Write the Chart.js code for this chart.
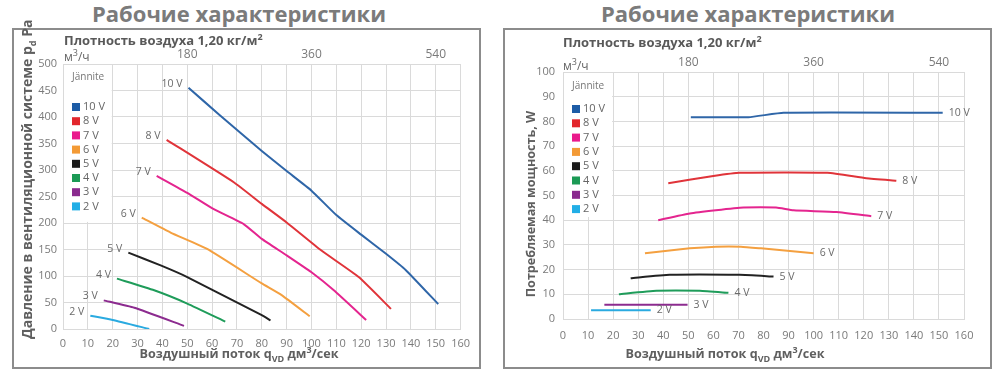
<!DOCTYPE html>
<html>
<head>
<meta charset="utf-8">
<script src="https://cdn.jsdelivr.net/npm/chart.js@4.4.1/dist/chart.umd.min.js"></script>
<style>
  body { margin: 0; width: 1000px; height: 377px; background: #fff; position: relative; overflow: hidden; font-family: "Open Sans", sans-serif; }
  .abs { position: absolute; white-space: nowrap; }
  .title { font-size: 22px; font-weight: 700; color: #7b7b7b; top: -2px; text-align: center; }
  .frame { position: absolute; border: 2px solid #8c8c8c; box-sizing: border-box; }
  .density { font-size: 13px; font-weight: 700; color: #595959; }
  .unit { font-size: 12px; color: #666; }
  .axtitle { font-size: 14px; font-weight: 700; color: #5f5f5f; text-align: center; }
  .xt { font-size: 12.6px; }
  .sm { font-size: 9px; position: relative; }
  canvas { position: absolute; }
</style>
</head>
<body>
<div class="abs title" style="left:0;width:478px;">Рабочие характеристики</div>
<div class="abs title" style="left:505px;width:486px;">Рабочие характеристики</div>
<div class="frame" style="left:12px;top:28px;width:469px;height:341px;"></div>
<div class="frame" style="left:503px;top:28px;width:489px;height:341px;"></div>

<canvas id="chart-pressure" style="left:14px;top:30px;" width="464" height="336"></canvas>
<canvas id="chart-power" style="left:505px;top:30px;" width="484" height="336"></canvas>

<div class="abs density" style="left:64px;top:31px;">Плотность воздуха 1,20 кг/м<span class="sm" style="top:-5px">2</span></div>
<div class="abs unit" style="left:64px;top:48px;">м<span class="sm" style="top:-5px">3</span>/ч</div>
<div class="abs density" style="left:563px;top:33px;">Плотность воздуха 1,20 кг/м<span class="sm" style="top:-5px">2</span></div>
<div class="abs unit" style="left:563px;top:57px;">м<span class="sm" style="top:-5px">3</span>/ч</div>

<div class="abs axtitle" style="left:-123px;top:179px;width:300px;height:20px;transform:rotate(-90deg);">Давление в вентиляционной системе p<span class="sm" style="top:4px">d</span> Pa</div>
<div class="abs axtitle xt" style="left:382px;top:194px;width:300px;height:20px;transform:rotate(-90deg);">Потребляемая мощность, W</div>
<div class="abs axtitle xt" style="left:89px;top:345px;width:300px;">Воздушный поток q<span class="sm" style="top:4px">VD</span> дм<span class="sm" style="top:-5px">3</span>/сек</div>
<div class="abs axtitle xt" style="left:575px;top:345px;width:300px;">Воздушный поток q<span class="sm" style="top:4px">VD</span> дм<span class="sm" style="top:-5px">3</span>/сек</div>

<script>
// voltages, colours
const voltLabels = ['10 V', '8 V', '7 V', '6 V', '5 V', '4 V', '3 V', '2 V'];
const lineColors = ['#2f66a8', '#e0343a', '#e4258f', '#f4a040', '#222222', '#1f9c5a', '#8c2b8f', '#2aaae0'];
const legendColors = ['#1d5ca6', '#e2262c', '#ea1a8c', '#f39a35', '#1a1a1a', '#1b9a55', '#8a2a8e', '#22aee6'];
const legendTitle = 'Jännite';

// top axis: l/s -> m3/h
const topTickValues = [50, 100, 150];
const topTickLabels = ['180', '360', '540'];

// pressure curves [flow dm3/s, Pa]
const press10V = [[50.5, 455], [63, 404], [80, 336], [90, 298], [100, 261], [110, 215], [120, 178], [130, 142], [138, 111], [151, 47]];
const press8V = [[41.7, 357], [69, 276], [80, 236], [90, 201], [104, 148], [119, 98], [132, 38]];
const press7V = [[37.7, 289], [50, 257], [60.7, 226], [72.7, 198], [80, 170], [90, 139], [100, 107], [109, 73], [122, 17]];
const press6V = [[31.7, 210], [43.3, 182], [58, 151], [80, 86], [88, 64], [99.3, 24]];
const press5V = [[26.3, 144], [39.3, 120], [50, 98], [80, 26], [83.5, 16]];
const press4V = [[21.7, 95], [36.7, 73], [50, 48], [65.3, 14]];
const press3V = [[16.4, 54], [28.7, 40], [48.7, 6]];
const press2V = [[11, 25], [20, 17], [34.7, 0]];

// power curves [flow dm3/s, W]
const power10V = [[51, 81.7], [74, 81.7], [88, 83.5], [151.5, 83.5]];
const power8V = [[42, 55], [60, 57.9], [70.5, 59.2], [105.5, 59.2], [121, 57], [133, 56]];
const power7V = [[38, 40], [50.6, 42.7], [61, 44], [72, 45.1], [85, 45.1], [92, 44], [109, 43.3], [123, 41.6]];
const power6V = [[32.7, 26.6], [50.6, 28.6], [61, 29.3], [71, 29.3], [79, 28.6], [100, 26.6]];
const power5V = [[27, 16.5], [42.6, 17.9], [70.5, 17.9], [84, 17.2]];
const power4V = [[22.3, 10], [37.3, 11.4], [54.6, 11.4], [66, 10.6]];
const power3V = [[16.5, 5.8], [49.7, 5.8]];
const power2V = [[11.2, 3.5], [35, 3.5]];

const gridColor = '#dadada';
const tickColor = '#7a7a7a';
const tickFont = {family: 'Open Sans', size: 11};

// legend box + curve labels
const decorPlugin = {
    id: 'decor',
    beforeDatasetsDraw(chart, args, o) {
        const {ctx, chartArea} = chart;
        const l = chartArea.left + 1;
        const r = chart.scales.x.getPixelForValue(20) - 1;
        const t = chartArea.top + 1;
        const b = chart.scales.y.getPixelForValue(o.boxBottom);
        ctx.save();
        ctx.fillStyle = '#fff';
        ctx.fillRect(l, t, r - l, b - t);
        ctx.textBaseline = 'middle';
        ctx.textAlign = 'left';
        ctx.fillStyle = '#777';
        ctx.font = '10px "Open Sans"';
        ctx.fillText(legendTitle, l + 8, chartArea.top + o.titleDy);
        ctx.font = '11px "Open Sans"';
        chart.data.datasets.forEach((ds, i) => {
            const cy = chartArea.top + o.firstDy + i * o.step;
            ctx.fillStyle = legendColors[i];
            ctx.fillRect(l + 8, cy - 4, 8, 8);
            ctx.fillStyle = '#666';
            ctx.fillText(ds.label, l + 19, cy);
        });
        ctx.restore();
    },
    afterDatasetsDraw(chart, args, o) {
        const {ctx} = chart;
        ctx.save();
        ctx.font = '10.5px "Open Sans"';
        ctx.fillStyle = '#6a6a6a';
        ctx.textBaseline = 'middle';
        chart.data.datasets.forEach((ds, i) => {
            const pts = chart.getDatasetMeta(i).data;
            if (o.side === 'start') {
                const p = pts[0];
                ctx.textAlign = 'right';
                ctx.fillText(ds.label, p.x - 6, p.y - 4);
            } else {
                const p = pts[pts.length - 1];
                ctx.textAlign = 'left';
                ctx.fillText(ds.label, p.x + 6, p.y);
            }
        });
        ctx.restore();
    }
};

function makeChart(id, series, yMax, yStep, sizes, decor) {
    const datasets = series.map((s, i) => ({
        label: voltLabels[i],
        data: s.map(p => ({x: p[0], y: p[1]})),
        borderColor: lineColors[i],
        borderWidth: 2,
        pointRadius: 0,
        tension: 0.15,
        fill: false
    }));
    return new Chart(document.getElementById(id).getContext('2d'), {
        type: 'line',
        data: {datasets},
        plugins: [decorPlugin],
        options: {
            responsive: false,
            animation: false,
            layout: {padding: {left: 0, right: sizes.right, top: 0, bottom: 0}},
            plugins: {legend: {display: false}, tooltip: {enabled: false}, decor},
            scales: {
                x: {
                    type: 'linear', position: 'bottom', min: 0, max: 160,
                    ticks: {stepSize: 10, color: tickColor, font: tickFont, padding: sizes.xPad, maxRotation: 0, autoSkip: false},
                    grid: {color: gridColor, drawTicks: false},
                    border: {color: gridColor},
                    afterFit: s => { s.height = sizes.bottom; }
                },
                xTop: {
                    type: 'linear', position: 'top', min: 0, max: 160,
                    afterBuildTicks: s => { s.ticks = topTickValues.map(v => ({value: v})); },
                    ticks: {
                        color: tickColor, font: {family: 'Open Sans', size: 12}, padding: sizes.topPad,
                        callback: v => topTickLabels[topTickValues.indexOf(v)]
                    },
                    grid: {display: false, drawTicks: false},
                    border: {display: false},
                    afterFit: s => { s.height = sizes.top; }
                },
                y: {
                    min: 0, max: yMax,
                    ticks: {stepSize: yStep, color: tickColor, font: tickFont, padding: sizes.yPad},
                    grid: {color: gridColor, drawTicks: false},
                    border: {color: gridColor},
                    afterFit: s => { s.width = sizes.left; }
                }
            }
        }
    });
}

makeChart('chart-pressure',
    [press10V, press8V, press7V, press6V, press5V, press4V, press3V, press2V],
    500, 50,
    {left: 49, right: 15, top: 34, bottom: 37, xPad: 8, yPad: 6, topPad: 2},
    {boxBottom: 202, titleDy: 13, firstDy: 43, step: 14.2, side: 'start'});

makeChart('chart-power',
    [power10V, power8V, power7V, power6V, power5V, power4V, power3V, power2V],
    100, 10,
    {left: 58, right: 25, top: 42, bottom: 47, xPad: 10, yPad: 8, topPad: 2},
    {boxBottom: 41.3, titleDy: 14, firstDy: 37, step: 14.3, side: 'end'});
</script>
</body>
</html>
